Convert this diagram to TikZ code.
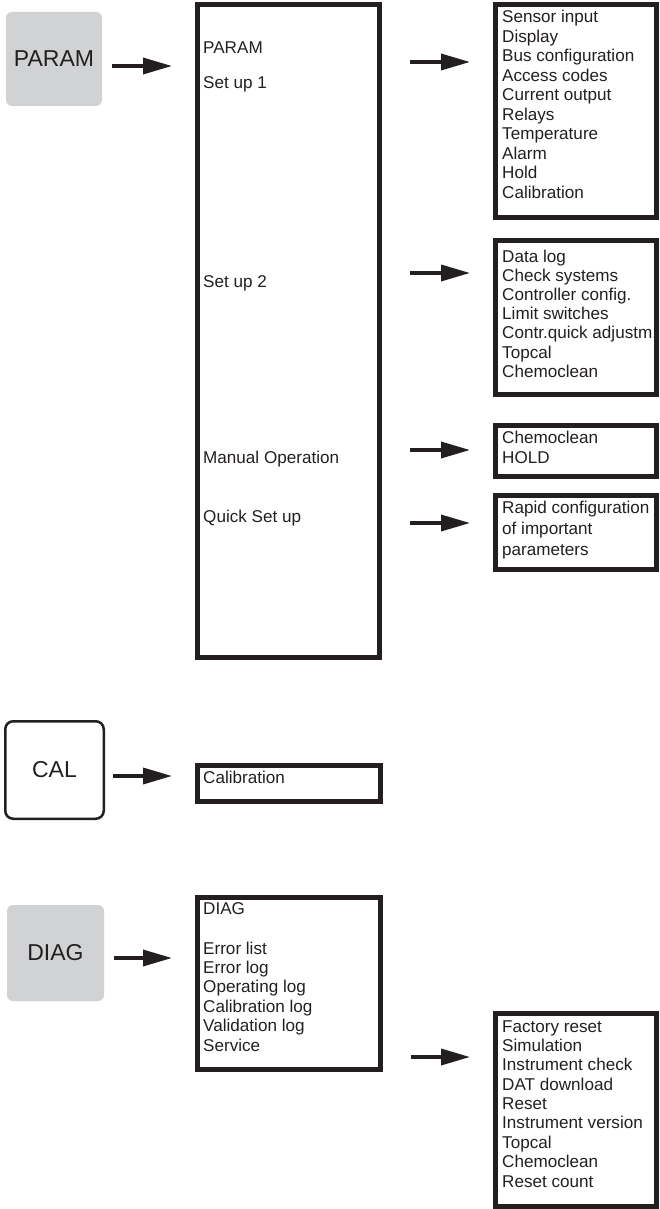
\documentclass[tikz,border=0pt]{standalone}
\usepackage{fontspec}
\setmainfont{Liberation Sans}
\usetikzlibrary{arrows.meta, positioning}
\usepackage{xcolor}
\definecolor{framegray}{RGB}{35,31,32}
\definecolor{keygray}{RGB}{209,210,212}

\tikzset{
    menubox/.style={draw=framegray, line width=5pt, inner sep=0pt, anchor=north west},
    keybtn/.style={rounded corners=6pt, inner sep=0pt, text=framegray, font=\fontsize{23}{26}\selectfont},
    item/.style={anchor=base west, inner sep=0pt, text=framegray, font=\fontsize{17.1}{19.5}\selectfont},
    keyarrow/.style={draw=framegray, line width=3.5pt, -{Triangle[length=29pt,width=16pt]}, shorten <=10pt, shorten >=23pt},
    subarrow/.style={keyarrow, shorten <=28pt},
}

\begin{document}
\begin{tikzpicture}[x=1pt, y=-1pt]
    \useasboundingbox (0,0) rectangle (659,1209);

    % Keys
    \node[keybtn, fill=keygray, minimum width=96pt, minimum height=94pt] (paramkey) at (54,59) {PARAM};
    \node[keybtn, draw=framegray, line width=2.5pt, rounded corners=8pt, minimum width=98.5pt, minimum height=97.5pt] (calkey) at (54.5,770) {CAL};
    \node[keybtn, fill=keygray, minimum width=97pt, minimum height=96pt] (diagkey) at (55.5,953) {DIAG};

    % Menu frames
    \node[menubox, minimum width=182pt, minimum height=653pt] (parammenu) at (195,2) {};
    \node[menubox, minimum width=161pt, minimum height=213pt] (setupone) at (493,2) {};
    \node[menubox, minimum width=161pt, minimum height=154pt] (setuptwo) at (493,238) {};
    \node[menubox, minimum width=161pt, minimum height=51pt] (manualbox) at (493,423) {};
    \node[menubox, minimum width=161pt, minimum height=74pt] (quickbox) at (493,493) {};
    \node[menubox, minimum width=183pt, minimum height=36pt] (calmenu) at (195,763) {};
    \node[menubox, minimum width=183pt, minimum height=172pt] (diagmenu) at (195,895) {};
    \node[menubox, minimum width=161pt, minimum height=193pt] (servicebox) at (493,1011) {};

    % PARAM menu
    \foreach \t/\y [count=\i] in {PARAM/54, Set up 1/89, Set up 2/287, Manual Operation/463, Quick Set up/522} {
        \node[item] (pm\i) at (203,\y) {\t};
    }

    % Set up 1
    \foreach \t [count=\i from 0] in {Sensor input, Display, Bus configuration, Access codes, Current output, Relays, Temperature, Alarm, Hold, Calibration} {
        \node[item] (su\i) at (502,22.7+19.5*\i) {\t};
    }

    % Set up 2
    \foreach \t [count=\i from 0] in {Data log, Check systems, Controller config., Limit switches, Contr.quick adjustm., Topcal, Chemoclean} {
        \node[item] (sv\i) at (502,262+19.2*\i) {\t};
    }

    % Manual operation
    \foreach \t [count=\i from 0] in {Chemoclean, HOLD} {
        \node[item] (mo\i) at (502,443+20*\i) {\t};
    }

    % Quick set up
    \foreach \t [count=\i from 0] in {Rapid configuration, of important, parameters} {
        \node[item] (qs\i) at (502,513+21*\i) {\t};
    }

    % CAL menu
    \node[item] (cal1) at (203,783) {Calibration};

    % DIAG menu
    \node[item] (dg0) at (203,914) {DIAG};
    \foreach \t [count=\i from 1] in {Error list, Error log, Operating log, Calibration log, Validation log, Service} {
        \node[item] (dg\i) at (203,934.6+19.4*\i) {\t};
    }

    % Service
    \foreach \t [count=\i from 0] in {Factory reset, Simulation, Instrument check, DAT download, Reset, Instrument version, Topcal, Chemoclean, Reset count} {
        \node[item] (sc\i) at (502,1032+19.375*\i) {\t};
    }

    % Arrows
    \coordinate (pa) at (0,66);
    \coordinate (ca) at (0,776);
    \coordinate (da) at (0,958);
    \draw[keyarrow] (paramkey.east |- pa) -- (parammenu.west |- pa);
    \draw[keyarrow, shorten <=8pt] (calkey.east |- ca) -- (calmenu.west |- ca);
    \draw[keyarrow] (diagkey.east |- da) -- (diagmenu.west |- da);

    \foreach \y/\tgt in {62/setupone, 273/setuptwo, 450/manualbox, 523/quickbox} {
        \coordinate (sa) at (0,\y);
        \draw[subarrow] (parammenu.east |- sa) -- (\tgt.west |- sa);
    }
    \coordinate (sd) at (0,1057);
    \draw[subarrow] (diagmenu.east |- sd) -- (servicebox.west |- sd);

\end{tikzpicture}
\end{document}
